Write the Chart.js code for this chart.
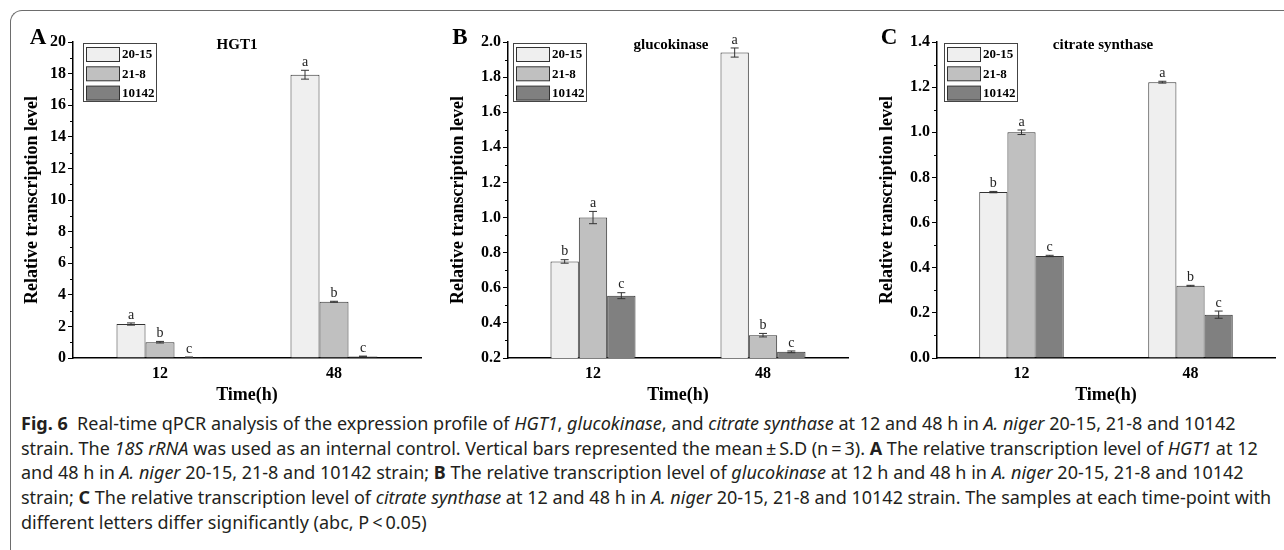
<!DOCTYPE html>
<html>
<head>
<meta charset="utf-8">
<script src="https://cdn.jsdelivr.net/npm/chart.js@4.4.1/dist/chart.umd.min.js"></script>
<style>
  body { margin: 0; background: #fff; width: 1284px; height: 550px; overflow: hidden; position: relative; }
  #frame { position: absolute; left: 10px; top: 10px; width: 1320px; height: 600px;
           border-top: 1px solid #6d6d6d; border-left: 1px solid #6d6d6d; border-top-left-radius: 12px; }
  canvas { position: absolute; top: 0; }
  #caption { position: absolute; left: 21px; top: 411px; font-family: "Noto Sans", sans-serif;
             font-size: 18px; line-height: 24.7px; color: #231f20; }
  #caption div { white-space: nowrap; }
</style>
</head>
<body>
<div id="frame"></div>
<canvas id="panelA" width="430" height="410" style="left:0px"></canvas>
<canvas id="panelB" width="430" height="410" style="left:430px"></canvas>
<canvas id="panelC" width="424" height="410" style="left:860px"></canvas>
<div id="caption">
  <div><b>Fig. 6</b>&nbsp; Real-time qPCR analysis of the expression profile of <i>HGT1</i>, <i>glucokinase</i>, and <i>citrate synthase</i> at 12 and 48 h in <i>A. niger</i> 20-15, 21-8 and 10142</div>
  <div>strain. The <i>18S rRNA</i> was used as an internal control. Vertical bars represented the mean&thinsp;±&thinsp;S.D (n&thinsp;=&thinsp;3). <b>A</b> The relative transcription level of <i>HGT1</i> at 12</div>
  <div>and 48 h in <i>A. niger</i> 20-15, 21-8 and 10142 strain; <b>B</b> The relative transcription level of <i>glucokinase</i> at 12 h and 48 h in <i>A. niger</i> 20-15, 21-8 and 10142</div>
  <div>strain; <b>C</b> The relative transcription level of <i>citrate synthase</i> at 12 and 48 h in <i>A. niger</i> 20-15, 21-8 and 10142 strain. The samples at each time-point with</div>
  <div>different letters differ significantly (abc, P&thinsp;&lt;&thinsp;0.05)</div>
</div>
<script>
const times = ['12', '48'];
const strains = ['20-15', '21-8', '10142'];

// one row per strain, one column per time point
const hgt1Mean = [[2.15, 17.93], [1.0, 3.56], [0.05, 0.1]];
const hgt1Err = [[0.07, 0.28], [0.05, 0.03], [0.01, 0.02]];
const hgt1Letters = [['a', 'a'], ['b', 'b'], ['c', 'c']];
const hgt1Axis = [0, 20, 2];

const glucoMean = [[0.75, 1.94], [1.0, 0.33], [0.555, 0.235]];
const glucoErr = [[0.01, 0.026], [0.035, 0.01], [0.017, 0.005]];
const glucoLetters = [['b', 'a'], ['a', 'b'], ['c', 'c']];
const glucoAxis = [0.2, 2.0, 0.2];

const citrateMean = [[0.735, 1.222], [1.0, 0.32], [0.452, 0.192]];
const citrateErr = [[0.003, 0.004], [0.01, 0.002], [0.003, 0.016]];
const citrateLetters = [['b', 'a'], ['a', 'b'], ['c', 'c']];
const citrateAxis = [0, 1.4, 0.2];

const fills = ['#efefef', '#c0c0c0', '#808080'];
const serif = '"Liberation Serif", "Times New Roman", serif';

const annotate = {
    id: 'annotate',
    afterDatasetsDraw(chart, args, o) {
        const ctx = chart.ctx;
        const y = chart.scales.y;
        ctx.save();
        chart.data.datasets.forEach((ds, i) => {
            chart.getDatasetMeta(i).data.forEach((bar, j) => {
                const v = ds.data[j];
                const e = o.err[i][j];
                const top = y.getPixelForValue(v + e);
                const bot = y.getPixelForValue(v - e);
                ctx.strokeStyle = '#333';
                ctx.lineWidth = 1;
                ctx.beginPath();
                ctx.moveTo(bar.x, top); ctx.lineTo(bar.x, bot);
                ctx.moveTo(bar.x - 4, top); ctx.lineTo(bar.x + 4, top);
                ctx.moveTo(bar.x - 4, bot); ctx.lineTo(bar.x + 4, bot);
                ctx.stroke();
                ctx.fillStyle = '#222';
                ctx.font = '14px ' + serif;
                ctx.textAlign = 'center';
                ctx.textBaseline = 'bottom';
                ctx.fillText(o.letters[i][j], bar.x, top - 1);
            });
        });
        ctx.restore();
    },
    afterDraw(chart, args, o) {
        const ctx = chart.ctx;
        const area = chart.chartArea;
        const y = chart.scales.y;
        ctx.save();
        // minor ticks
        ctx.strokeStyle = '#000';
        ctx.lineWidth = 1;
        ctx.beginPath();
        for (let v = o.axis[0] + o.axis[2] / 2; v < o.axis[1]; v += o.axis[2]) {
            const py = Math.round(y.getPixelForValue(v)) + 0.5;
            ctx.moveTo(area.left - 3, py);
            ctx.lineTo(area.left, py);
        }
        ctx.stroke();

        ctx.fillStyle = '#000';
        ctx.textAlign = 'center';
        ctx.textBaseline = 'middle';
        // panel letter
        ctx.font = 'bold 23px ' + serif;
        ctx.fillText(o.tag, o.tagX, 38);
        // gene title
        ctx.font = 'bold 15px ' + serif;
        ctx.fillText(o.title, o.titleX, 45);
        // x title
        ctx.font = 'bold 18px ' + serif;
        ctx.fillText('Time(h)', (area.left + area.right) / 2, 395);
        // y title
        ctx.save();
        ctx.translate(area.left - o.yTitleGap, (area.top + area.bottom) / 2);
        ctx.rotate(-Math.PI / 2);
        ctx.fillText('Relative transcription level', 0, 0);
        ctx.restore();

        // legend
        const lx = area.left + o.legendDx;
        const ly = 43;
        ctx.strokeStyle = '#444';
        ctx.lineWidth = 1;
        ctx.fillStyle = '#fff';
        ctx.fillRect(lx + 0.5, ly + 0.5, 73, 58);
        ctx.strokeRect(lx + 0.5, ly + 0.5, 73, 58);
        ctx.font = 'bold 13px ' + serif;
        ctx.textAlign = 'left';
        chart.data.datasets.forEach((ds, i) => {
            const sy = ly + 4 + i * 19.3;
            ctx.fillStyle = ds.backgroundColor;
            ctx.fillRect(lx + 3.5, sy + 0.5, 33, 14);
            ctx.strokeStyle = '#333';
            ctx.strokeRect(lx + 3.5, sy + 0.5, 33, 14);
            ctx.fillStyle = '#000';
            ctx.fillText(ds.label, lx + 39, sy + 8);
        });
        ctx.restore();
    }
};

function makePanel(id, mean, err, letters, axis, cfg) {
    const canvas = document.getElementById(id);
    const decimals = axis[2] < 1 ? 1 : 0;
    new Chart(canvas.getContext('2d'), {
        type: 'bar',
        data: {
            labels: times,
            datasets: strains.map((name, i) => ({
                label: name,
                data: mean[i],
                backgroundColor: fills[i],
                borderColor: '#333',
                borderWidth: 1,
                barPercentage: 1,
                categoryPercentage: 0.5,
            })),
        },
        options: {
            responsive: false,
            animation: false,
            layout: { padding: { left: 0, right: canvas.width - cfg.right, top: 42, bottom: 0 } },
            scales: {
                x: {
                    grid: { display: false, drawTicks: false },
                    border: { display: true, color: '#000', width: 1.5 },
                    ticks: { color: '#000', padding: 6, font: { family: serif, size: 16, weight: 'bold' } },
                    afterFit: (s) => { s.height = 52; },
                },
                y: {
                    min: axis[0],
                    max: axis[1],
                    ticks: {
                        stepSize: axis[2],
                        color: '#000',
                        padding: 2,
                        font: { family: serif, size: 16, weight: 'bold' },
                        callback: (v) => Number(v).toFixed(decimals),
                    },
                    grid: { drawOnChartArea: false, drawTicks: true, tickLength: 5, color: '#000' },
                    border: { display: true, color: '#000', width: 1.5 },
                    afterFit: (s) => { s.width = cfg.left; },
                },
            },
            plugins: {
                legend: { display: false },
                tooltip: { enabled: false },
                annotate: Object.assign({ err: err, letters: letters, axis: axis }, cfg),
            },
        },
        plugins: [annotate],
    });
}

makePanel('panelA', hgt1Mean, hgt1Err, hgt1Letters, hgt1Axis,
    { left: 73, right: 421, tag: 'A', tagX: 38, title: 'HGT1', titleX: 237, yTitleGap: 41, legendDx: 10 });
makePanel('panelB', glucoMean, glucoErr, glucoLetters, glucoAxis,
    { left: 78, right: 418, tag: 'B', tagX: 30, title: 'glucokinase', titleX: 241, yTitleGap: 50, legendDx: 5 });
makePanel('panelC', citrateMean, citrateErr, citrateLetters, citrateAxis,
    { left: 77, right: 415, tag: 'C', tagX: 29, title: 'citrate synthase', titleX: 243, yTitleGap: 50, legendDx: 7 });
</script>
</body>
</html>
